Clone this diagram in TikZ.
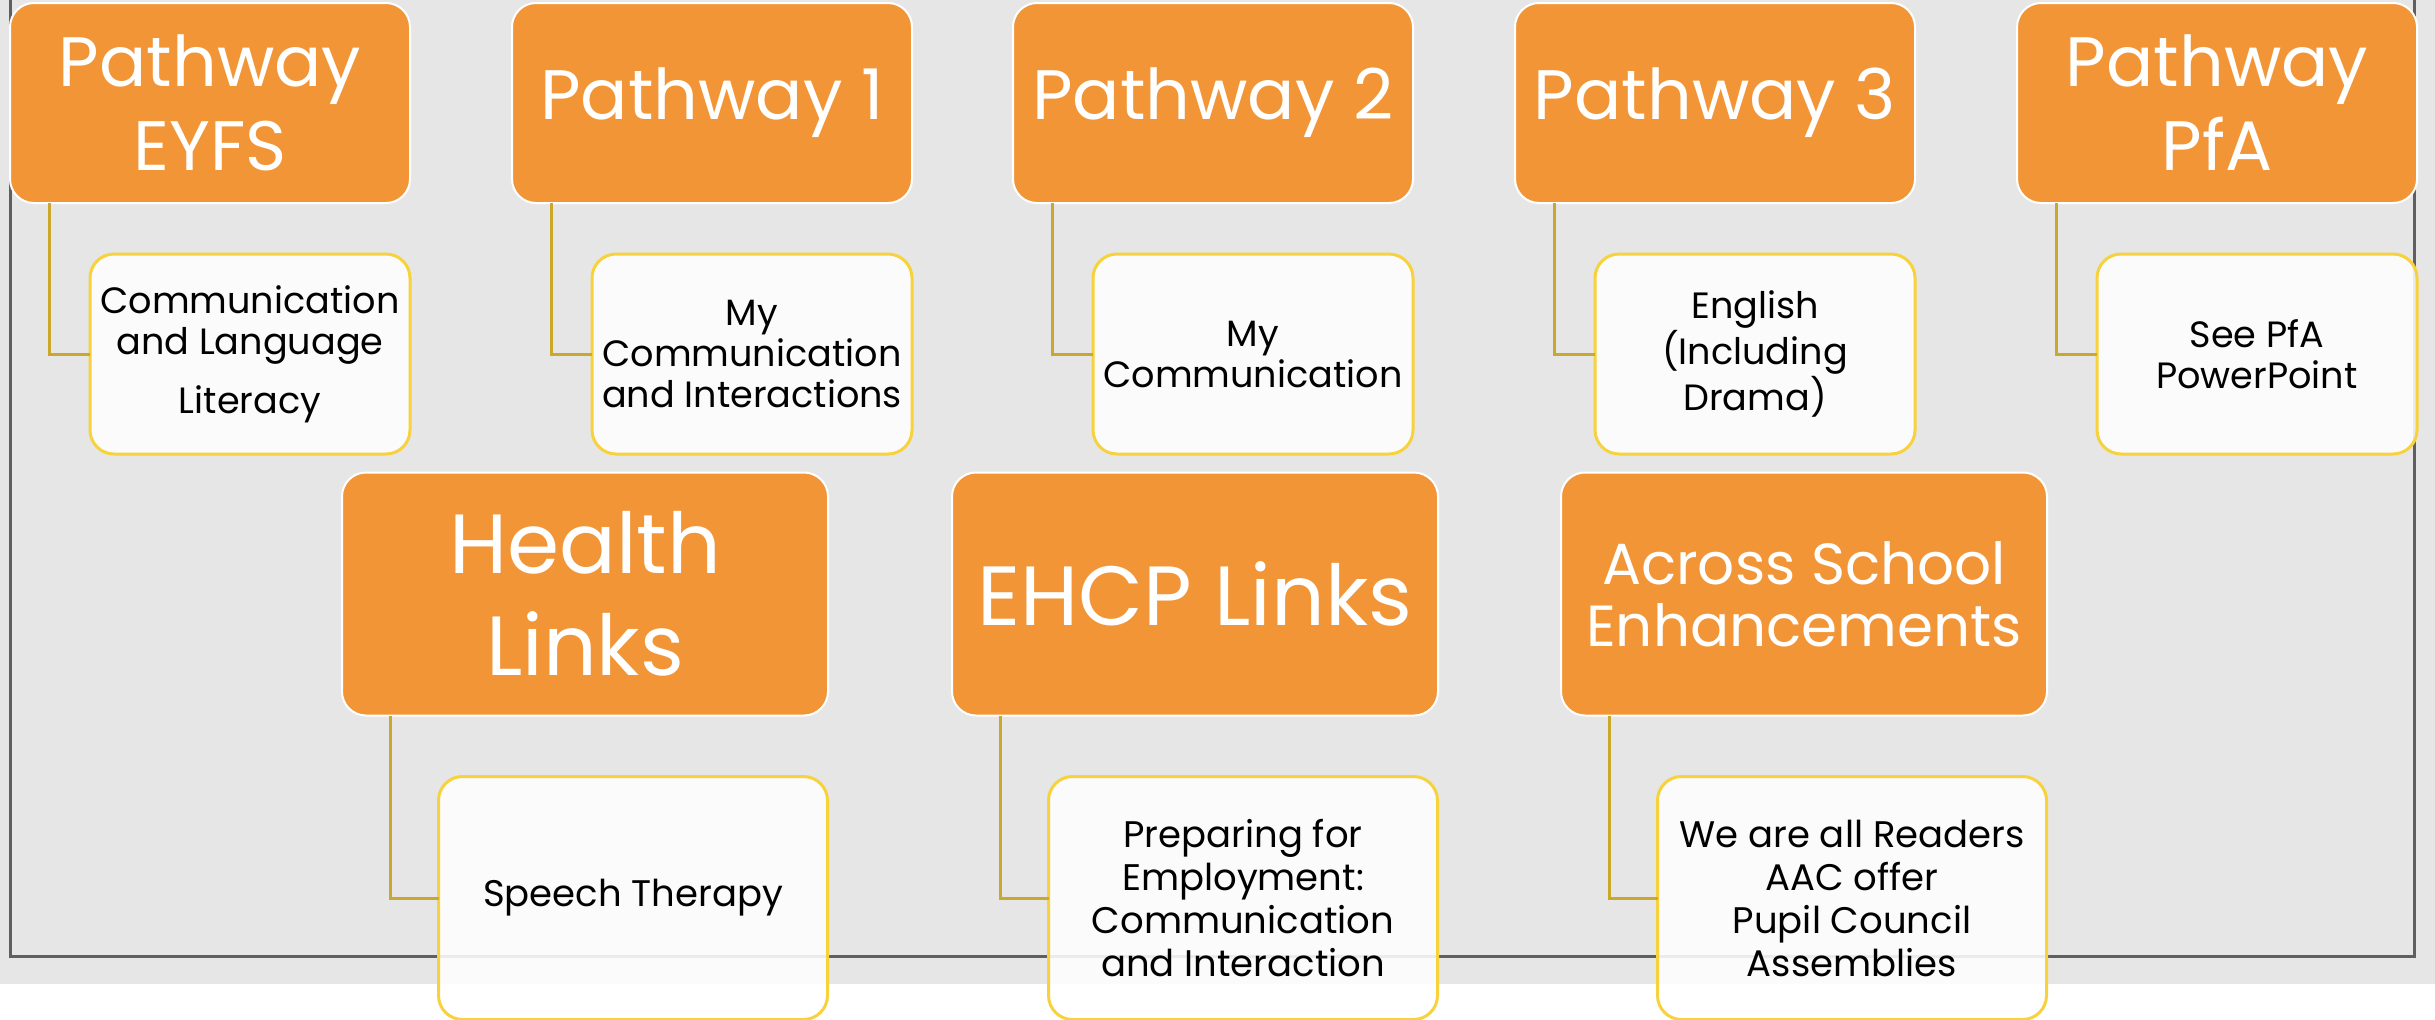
\documentclass[tikz,border=0pt]{standalone}
\usepackage{fontspec}
\setmainfont{Poppins}
\usetikzlibrary{positioning}
\definecolor{pathorange}{HTML}{F29537}
\definecolor{topicyellow}{HTML}{F7D23C}
\definecolor{linkgold}{HTML}{C9A82C}
\definecolor{slidegray}{HTML}{E6E6E6}
\definecolor{framegray}{HTML}{5F5F5F}
\begin{document}
\begin{tikzpicture}[x=0.5pt,y=-0.5pt]
        \tikzstyle{pathway}=[rectangle,rounded corners=12pt,draw=white,line width=1pt,fill=pathorange,text=white,align=center,outer sep=0pt,inner sep=2pt]
        \tikzstyle{topic}=[rectangle,rounded corners=12pt,draw=topicyellow,line width=1.5pt,fill=white,fill opacity=0.88,text opacity=1,text=black,align=center,outer sep=0pt,inner sep=2pt]
        \tikzstyle{edge}=[draw=linkgold,line width=1.5pt]
        \useasboundingbox (0,0) rectangle (2435,1019);
        % slide background and frame
        \fill[slidegray] (0,0) rectangle (2435,984);
        \draw[framegray,line width=1.5pt] (10,0) -- (10,956) -- (2414,956) -- (2414,0);
       \begin{scope}[font=\fontsize{35}{42}\selectfont]
         \node [pathway,minimum width=200pt,minimum height=100pt] (eyfs) at (210,103) {Pathway\\EYFS};
         \node [pathway,minimum width=200pt,minimum height=100pt] (pw1) at (712,103) {Pathway 1};
         \node [pathway,minimum width=200pt,minimum height=100pt] (pw2) at (1213,103) {Pathway 2};
         \node [pathway,minimum width=200pt,minimum height=100pt] (pw3) at (1715,103) {Pathway 3};
         \node [pathway,minimum width=200pt,minimum height=100pt] (pfa) at (2217,103) {Pathway\\PfA};
       \end{scope}
       \begin{scope}[font=\fontsize{18.3}{20.5}\selectfont]
         \node [topic,minimum width=160pt,minimum height=100pt] (eyfsc) at (250,354) {Communication\\and Language\\[9pt]Literacy};
         \node [topic,minimum width=160pt,minimum height=100pt] (pw1c) at (752,354) {My\\Communication\\and Interactions};
         \node [topic,minimum width=160pt,minimum height=100pt] (pw2c) at (1253,354) {My\\Communication};
         \node [topic,minimum width=160pt,minimum height=100pt] (pw3c) at (1755,354) {English\\(Including\\Drama)};
         \node [topic,minimum width=160pt,minimum height=100pt] (pfac) at (2257,354) {See PfA\\PowerPoint};
       \end{scope}
         \path[edge] ([xshift=19.5pt]eyfs.south west) |- (eyfsc.west);
         \path[edge] ([xshift=19.5pt]pw1.south west) |- (pw1c.west);
         \path[edge] ([xshift=19.5pt]pw2.south west) |- (pw2c.west);
         \path[edge] ([xshift=19.5pt]pw3.south west) |- (pw3c.west);
         \path[edge] ([xshift=19.5pt]pfa.south west) |- (pfac.west);
       \begin{scope}
         \node [pathway,minimum width=243pt,minimum height=121.5pt,font=\fontsize{42}{51}\selectfont] (health) at (585,594) {Health\\Links};
         \node [pathway,minimum width=243pt,minimum height=121.5pt,font=\fontsize{42}{51}\selectfont] (ehcp) at (1195,594) {EHCP Links};
         \node [pathway,minimum width=243pt,minimum height=121.5pt,font=\fontsize{29}{31}\selectfont] (across) at (1804,594) {Across School\\Enhancements};
       \end{scope}
       \begin{scope}[font=\fontsize{18.5}{21.5}\selectfont]
         \node [topic,minimum width=194.5pt,minimum height=121.5pt] (healthc) at (633,898) {Speech Therapy};
         \node [topic,minimum width=194.5pt,minimum height=121.5pt] (ehcpc) at (1243,898) {Preparing for\\Employment:\\Communication\\and Interaction};
         \node [topic,minimum width=194.5pt,minimum height=121.5pt] (acrossc) at (1852,898) {We are all Readers\\AAC offer\\Pupil Council\\Assemblies};
       \end{scope}
         \path[edge] ([xshift=24pt]health.south west) |- (healthc.west);
         \path[edge] ([xshift=24pt]ehcp.south west) |- (ehcpc.west);
         \path[edge] ([xshift=24pt]across.south west) |- (acrossc.west);
      \end{tikzpicture}
\end{document}
